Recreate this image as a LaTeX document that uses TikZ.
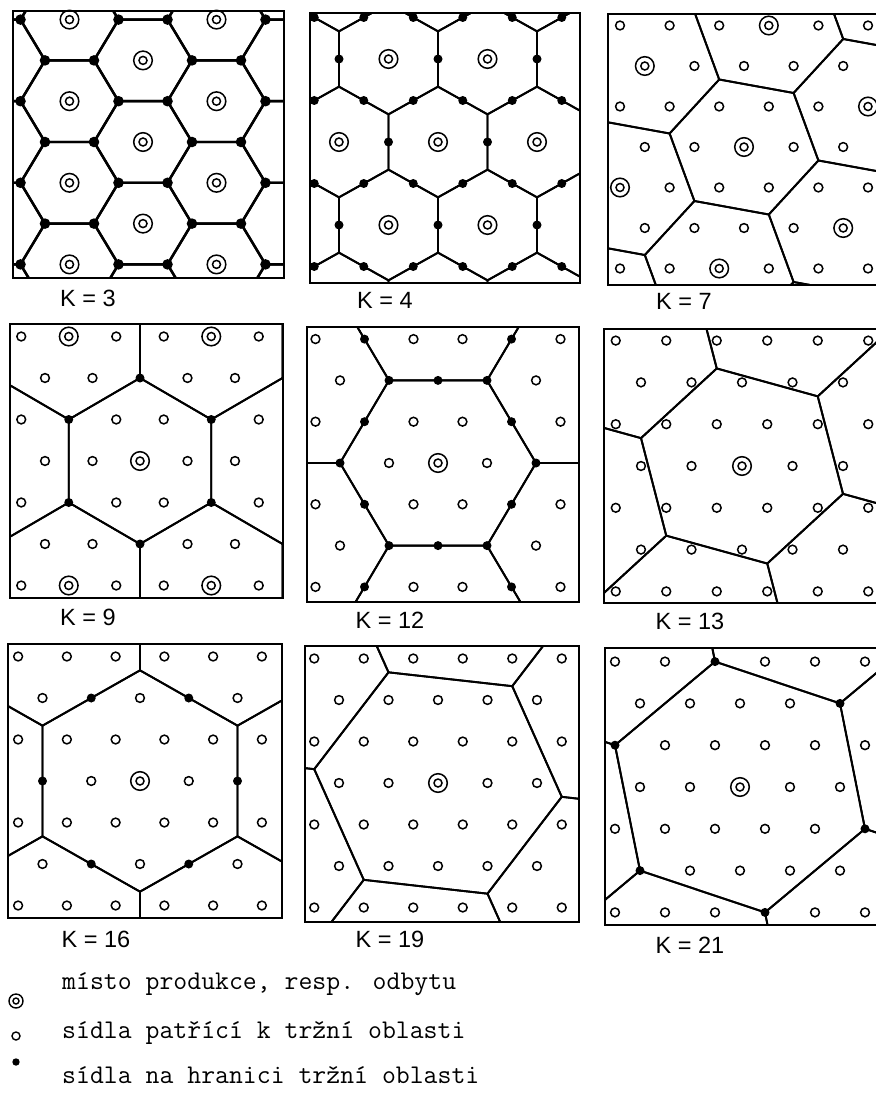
\documentclass[tikz,border=0pt]{standalone}
\usepackage{fontspec}
\newfontfamily\lsans{Liberation Sans}
\def\Bw{1.9pt}
\def\Dr{4.5}
\tikzset{
  bnd/.style={line width=\Bw, line join=round},
  frame/.style={line width=2pt},
  sett/.style={line width=1.5pt},
  klab/.style={font=\lsans\fontsize{23.5}{24}\selectfont, anchor=base, inner sep=0pt},
  leg/.style={font=\ttfamily\addfontfeatures{FakeBold=0.8}\fontsize{27}{28}\selectfont, anchor=base west, inner sep=0pt},
}
% box x1,y1,x2,y2 ; centre cx,cy ; spacing sx ; row height ry ; class expression
\newcommand\setpanel[9]{\def\Xa{#1}\def\Ya{#2}\def\Xb{#3}\def\Yb{#4}\def\Cx{#5}\def\Cy{#6}\def\Sx{#7}\def\Ry{#8}\def\Cls{#9}}
% market generators alpha, beta ; first Voronoi vertex w
\newcommand\setlat[6]{\def\Aa{#1}\def\Ab{#2}\def\Ba{#3}\def\Bb{#4}\def\WA{#5}\def\WB{#6}}
\newcommand\drawpanel{%
  \pgfmathsetmacro\Vx{0.5*\Sx}%
  \pgfmathsetmacro\WC{-(\WB)}%
  \pgfmathsetmacro\WD{(\WA)+(\WB)}%
  \pgfmathsetmacro\WE{-(\WA)-(\WB)}%
  \pgfmathsetmacro\WF{-(\WA)}%
  \pgfmathsetmacro\WG{-(\WB)}%
  \begin{scope}
    \clip (\Xa,\Ya) rectangle (\Xb,\Yb);
    \begin{scope}[shift={(\Cx pt,-\Cy pt)},x={(\Sx pt,0pt)},y={(\Vx pt,-\Ry pt)}]
      \foreach \ka in {-4,...,4}{\foreach \kb in {-4,...,4}{%
        \pgfmathsetmacro\mi{\ka*(\Aa)+\kb*(\Ba)}%
        \pgfmathsetmacro\mj{\ka*(\Ab)+\kb*(\Bb)}%
        \draw[bnd,shift={(\mi,\mj)}] (\WA,\WB) -- (\WC,\WD) -- (\WE,\WA) -- (\WF,\WG) -- (\WB,\WE) -- (\WD,\WF) -- cycle;
      }}
    \end{scope}
  \end{scope}
  \foreach \i in {-7,...,7}{\foreach \j in {-4,...,4}{%
    \pgfmathsetmacro\Px{\Cx+(\i+0.5*\j)*\Sx}%
    \pgfmathsetmacro\Py{\Cy+\j*\Ry}%
    \pgfmathtruncatemacro\Ok{(\Px>\Xa+3) && (\Px<\Xb-3) && (\Py>\Ya+3) && (\Py<\Yb-3)}%
    \ifnum\Ok=1
      \pgfmathtruncatemacro\Kc{\Cls}%
      \ifcase\Kc
        \draw[sett] (\Px,\Py) circle[radius=4.4];
      \or
        \fill (\Px,\Py) circle[radius=\Dr];
      \or
        \draw[sett] (\Px,\Py) circle[radius=9.3] (\Px,\Py) circle[radius=4];
      \fi
    \fi
  }}
  \draw[frame] (\Xa,\Ya) rectangle (\Xb,\Yb);
}
\begin{document}
\begin{tikzpicture}[x=1pt,y=-1pt]
\useasboundingbox (0,0) rectangle (875,1099);
\fill[white] (0,0) rectangle (875,1099);

% K = 3
\def\Bw{2.4pt}\def\Dr{5.3}
\setpanel{13}{11}{284}{278}{143}{142}{49}{40.8}{ifthenelse(Mod((\i)-(\j),3)==0,2,1)}
\setlat{1}{1}{-1}{2}{0}{1}
\drawpanel
\def\Bw{1.9pt}\def\Dr{4.5}

% K = 4
\setpanel{310}{13}{580}{283}{438}{142}{49.5}{41.5}{ifthenelse((Mod(\i,2)==0) && (Mod(\j,2)==0),2,1)}
\setlat{2}{0}{0}{2}{2/3}{2/3}
\drawpanel

% K = 7
\setpanel{608}{14}{885}{285}{744}{147}{49.6}{40.5}{ifthenelse(Mod((\j)-2*(\i),7)==0,2,0)}
\setlat{1}{2}{-2}{3}{-1/3}{5/3}
\drawpanel

% K = 9
\setpanel{10}{324}{283}{598}{140}{461}{47.5}{41.5}{ifthenelse((Mod(\i,3)==0) && (Mod(\j,3)==0),2,ifthenelse(Mod((\i)-(\j),3)==0,1,0))}
\setlat{3}{0}{0}{3}{1}{1}
\drawpanel

% K = 12
\setpanel{307}{327}{579}{602}{438}{463}{49}{41.3}{ifthenelse((Mod((\i)-(\j),3)==0) && (Mod(\i,2)==0) && (Mod(\j,2)==0),2,ifthenelse((Mod((\i)-(\j),3)==0) || ((Mod(\i,2)==0) && (Mod(\j,2)==0)),1,0))}
\setlat{2}{2}{-2}{4}{0}{2}
\drawpanel

% K = 13
\setpanel{604}{329}{885}{603}{742}{466}{50.5}{41.8}{ifthenelse((\i==0) && (\j==0),2,0)}
\setlat{1}{3}{-3}{4}{-2/3}{7/3}
\drawpanel

% K = 16
\setpanel{8}{644}{282}{918}{140}{781}{48.75}{41.5}{ifthenelse((Mod(\i,4)==0) && (Mod(\j,4)==0),2,ifthenelse((Mod(\i,2)==0) && (Mod(\j,2)==0),1,0))}
\setlat{4}{0}{0}{4}{4/3}{4/3}
\drawpanel

% K = 19
\setpanel{305}{646}{579}{922}{438}{783}{49.5}{41.5}{ifthenelse((\i==0) && (\j==0),2,0)}
\setlat{2}{3}{-3}{5}{-1/3}{8/3}
\drawpanel

% K = 21
\setpanel{605}{648}{885}{925}{740}{787}{50}{41.8}{ifthenelse(Mod((\j)-4*(\i),21)==0,2,ifthenelse(Mod((\j)-4*(\i),7)==0,1,0))}
\setlat{1}{4}{-4}{5}{-1}{3}
\drawpanel

% labels
\node[klab] (k3)  at (88,306)  {K = 3};
\node[klab] (k4)  at (385,308) {K = 4};
\node[klab] (k7)  at (684,309) {K = 7};
\node[klab] (k9)  at (88,625)  {K = 9};
\node[klab] (k12) at (390,628) {K = 12};
\node[klab] (k13) at (690,629) {K = 13};
\node[klab] (k16) at (96,947)  {K = 16};
\node[klab] (k19) at (390,947) {K = 19};
\node[klab] (k21) at (690,953) {K = 21};

% legend
\draw[line width=1.4pt] (16,1001) circle[radius=7] (16,1001) circle[radius=3];
\draw[line width=1.4pt] (16,1036) circle[radius=4];
\fill (16,1062) circle[radius=3.7];
\node[leg] (l1) at (62,989)  {místo produkce, resp. odbytu};
\node[leg] (l2) at (62,1038) {sídla patřící k tržní oblasti};
\node[leg] (l3) at (62,1083) {sídla na hranici tržní oblasti};
\end{tikzpicture}
\end{document}
